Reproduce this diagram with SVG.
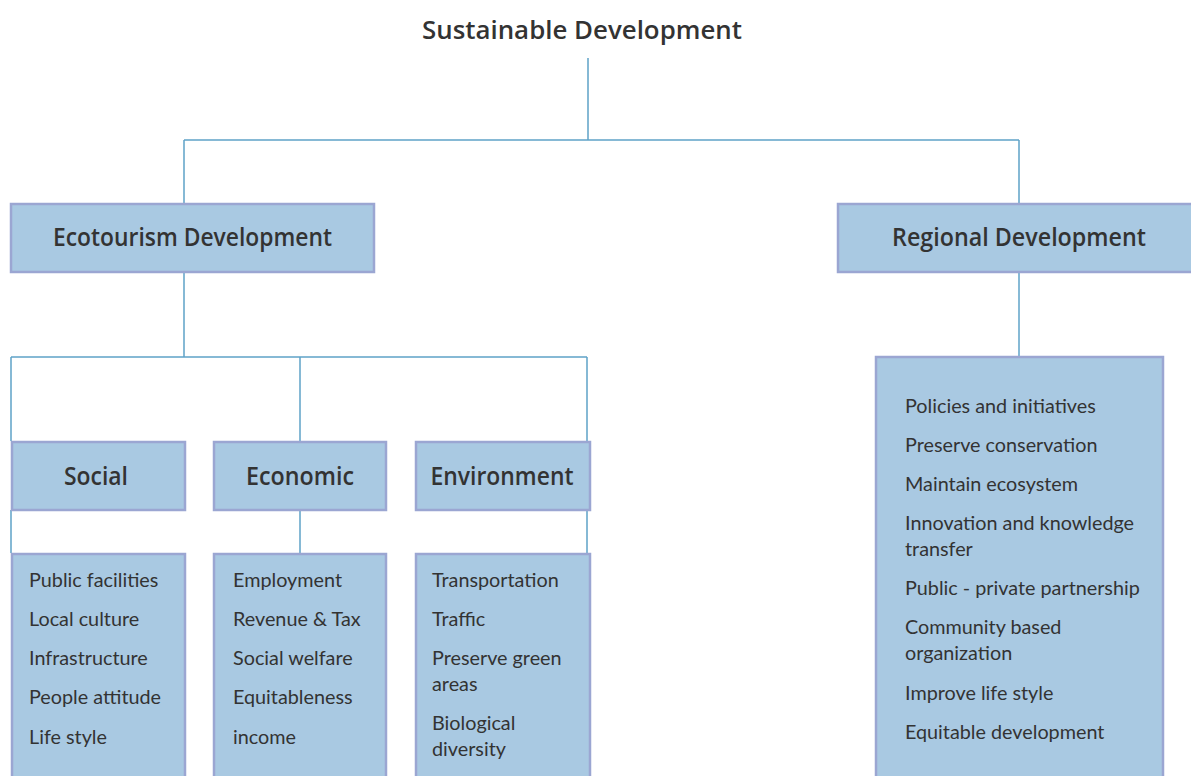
<svg xmlns="http://www.w3.org/2000/svg" width="1191" height="776" viewBox="0 0 1191 776">
<style>
.box{fill:#a9c9e2;stroke:#9ba6d2;stroke-width:2.5}
.hd{font-family:"Open Sans",Lato,sans-serif;font-weight:600;font-size:25px;fill:#333;text-anchor:middle}
.it{font-family:Lato,"Open Sans",sans-serif;font-size:19.8px;fill:#333}
.ln{stroke:#5fa3c8;stroke-width:1.5;fill:none}
</style>
<rect width="1191" height="776" fill="#fff"/>
<g id="connectors">
<path class="ln" d="M588 58V140M184 140H1019M184 140V204M1019 140V204"/>
<path class="ln" d="M184 272V357M11 357H587M11 357V441M300 357V441M587 357V441"/>
<path class="ln" d="M11 510V553M300 510V553M587 510V553"/>
<path class="ln" d="M1019 272V357"/>
</g>
<g id="title"><text class="hd" x="582" y="39" font-size="27.5" textLength="320" lengthAdjust="spacingAndGlyphs">Sustainable Development</text></g>
<g id="ecotourism"><rect class="box" x="11" y="204" width="363" height="68"/><text class="hd" x="192.5" y="246" textLength="279" lengthAdjust="spacingAndGlyphs">Ecotourism Development</text></g>
<g id="regional"><rect class="box" x="838" y="204" width="360" height="68"/><text class="hd" x="1019" y="246" textLength="254" lengthAdjust="spacingAndGlyphs">Regional Development</text></g>
<g id="social"><rect class="box" x="12" y="442" width="173" height="68"/><text class="hd" x="96" y="485" textLength="64" lengthAdjust="spacingAndGlyphs">Social</text></g>
<g id="economic"><rect class="box" x="214" y="442" width="172" height="68"/><text class="hd" x="300" y="485" textLength="108" lengthAdjust="spacingAndGlyphs">Economic</text></g>
<g id="environment"><rect class="box" x="416" y="442" width="174" height="68"/><text class="hd" x="502" y="485" textLength="143" lengthAdjust="spacingAndGlyphs">Environment</text></g>
<g id="social-list"><rect class="box" x="12" y="554" width="173" height="240"/>
<text class="it" x="29" y="587">Public facilities</text>
<text class="it" x="29" y="626">Local culture</text>
<text class="it" x="29" y="665">Infrastructure</text>
<text class="it" x="29" y="704">People attitude</text>
<text class="it" x="29" y="744">Life style</text></g>
<g id="economic-list"><rect class="box" x="214" y="554" width="172" height="240"/>
<text class="it" x="233" y="587">Employment</text>
<text class="it" x="233" y="626">Revenue &amp; Tax</text>
<text class="it" x="233" y="665">Social welfare</text>
<text class="it" x="233" y="704">Equitableness</text>
<text class="it" x="233" y="744">income</text></g>
<g id="environment-list"><rect class="box" x="416" y="554" width="174" height="240"/>
<text class="it" x="432" y="587">Transportation</text>
<text class="it" x="432" y="626">Traffic</text>
<text class="it" x="432" y="665">Preserve green</text>
<text class="it" x="432" y="691">areas</text>
<text class="it" x="432" y="730">Biological</text>
<text class="it" x="432" y="756">diversity</text></g>
<g id="regional-list"><rect class="box" x="876" y="357" width="287" height="440"/>
<text class="it" x="905" y="413">Policies and initiatives</text>
<text class="it" x="905" y="452">Preserve conservation</text>
<text class="it" x="905" y="491">Maintain ecosystem</text>
<text class="it" x="905" y="530">Innovation and knowledge</text>
<text class="it" x="905" y="556">transfer</text>
<text class="it" x="905" y="595">Public - private partnership</text>
<text class="it" x="905" y="634">Community based</text>
<text class="it" x="905" y="660">organization</text>
<text class="it" x="905" y="700">Improve life style</text>
<text class="it" x="905" y="739">Equitable development</text></g>
</svg>
